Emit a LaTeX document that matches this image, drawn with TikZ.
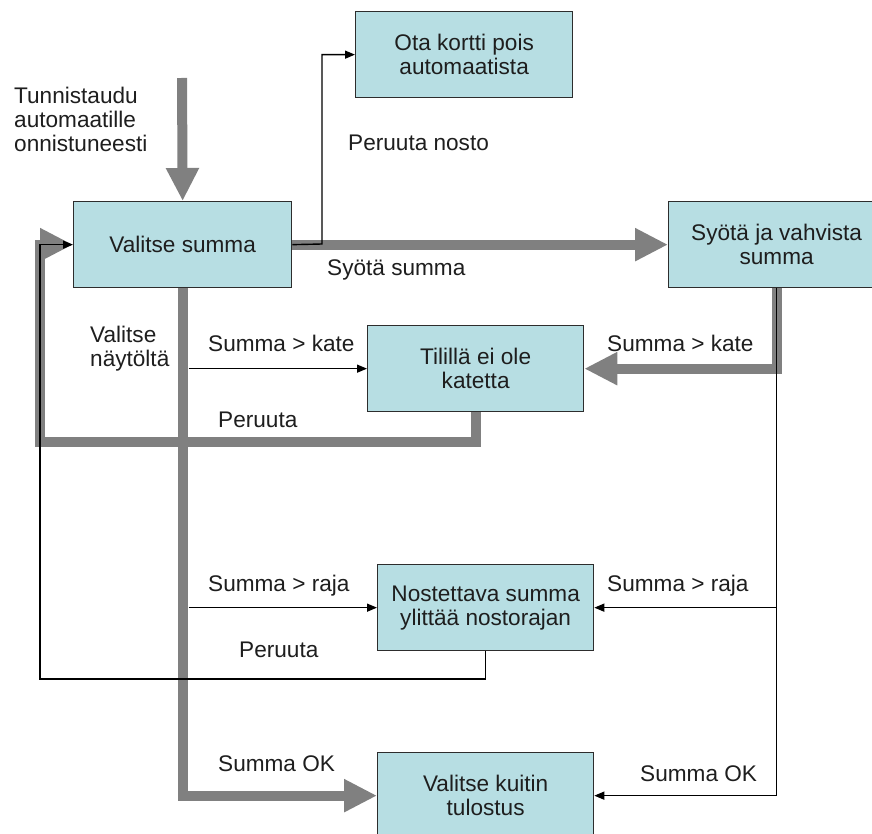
\documentclass[tikz,border=0pt]{standalone}
\usepackage{fontspec}
\setmainfont{Liberation Sans}
\usetikzlibrary{arrows.meta}
\definecolor{boxfill}{RGB}{183,222,227}
\definecolor{flowgray}{RGB}{128,128,128}
\definecolor{boxline}{RGB}{45,45,45}
\definecolor{textgray}{RGB}{30,30,30}

\begin{document}
\begin{tikzpicture}[x=1pt,y=-1pt,
  txt/.style={font=\fontsize{22.6}{24}\selectfont, text=textgray},
  state/.style={txt, draw=boxline, line width=1.3pt, fill=boxfill,
    minimum width=216pt, minimum height=86pt, align=center, inner sep=0pt,
    anchor=north west},
  mainflow/.style={draw=flowgray, line width=10pt,
    -{Triangle[length=33pt,width=31pt]}},
  sideflow/.style={draw=black, line width=1.4pt,
    -{Triangle[length=10pt,width=8pt]}},
  lbl/.style={txt, inner sep=0pt, anchor=base west},
  mlbl/.style={txt, inner sep=0pt, anchor=north west, align=left}]

  % canvas
  \fill[white] (0,0) rectangle (872,834);
  \path[use as bounding box, clip] (0,0) rectangle (872,834);

  % states
  \node[state, minimum width=218pt] (vs)  at (73,201)  {Valitse summa};
  \node[state, minimum width=217pt] (ota) at (355,11)  {Ota kortti pois\\automaatista};
  \node[state] (syota) at (668,201) {Syötä ja vahvista\\summa};
  \node[state] (til)   at (367,325) {Tilillä ei ole\\katetta};
  \node[state] (nost)  at (377,564) {Nostettava summa\\ylittää nostorajan};
  \node[state] (kuit)  at (377,752) {Valitse kuitin\\tulostus};

  % helper points
  \coordinate (start) at (182,78);
  \coordinate (lowa)  at (40,442);
  \coordinate (lowb)  at (40,679);
  \coordinate (turn)  at (322,244);

  % main (thick) transitions
  \draw[mainflow] (start) -- (vs.north);
  \draw[mainflow] (vs.east) -- (syota.west);
  \draw[mainflow] (syota.south) |- (til.east);
  \draw[mainflow] (til.south) |- (lowa) |- (vs.west);
  \draw[mainflow] (vs.south) |- (kuit.west);

  % side (thin) transitions
  \draw[sideflow] (vs.east) -- (turn) |- (ota.west);
  \draw[sideflow] ([xshift=6pt]vs.south |- til.west) -- (til.west);
  \draw[sideflow] ([xshift=6pt]vs.south |- nost.west) -- (nost.west);
  \draw[sideflow] (syota.south) |- (kuit.east);
  \draw[sideflow] (syota.south |- nost.east) -- (nost.east);
  \draw[sideflow] (nost.south) |- (lowb) |- (vs.west);

  % labels
  \node[mlbl] (l-entry) at (14,87) {Tunnistaudu\\automaatille\\onnistuneesti};
  \node[lbl] (l-cancel) at (348,151) {Peruuta nosto};
  \node[lbl] (l-enter)  at (327,275) {Syötä summa};
  \node[mlbl] (l-pick)  at (90,325.5) {Valitse\\näytöltä};
  \node[lbl] (l-k1) at (208,351) {Summa > kate};
  \node[lbl] (l-k2) at (607,351) {Summa > kate};
  \node[lbl] (l-p1) at (218,427) {Peruuta};
  \node[lbl] (l-r1) at (208,591) {Summa > raja};
  \node[lbl] (l-r2) at (607,591) {Summa > raja};
  \node[lbl] (l-p2) at (239,657) {Peruuta};
  \node[lbl] (l-o1) at (218,771) {Summa OK};
  \node[lbl] (l-o2) at (640,781) {Summa OK};
\end{tikzpicture}
\end{document}
